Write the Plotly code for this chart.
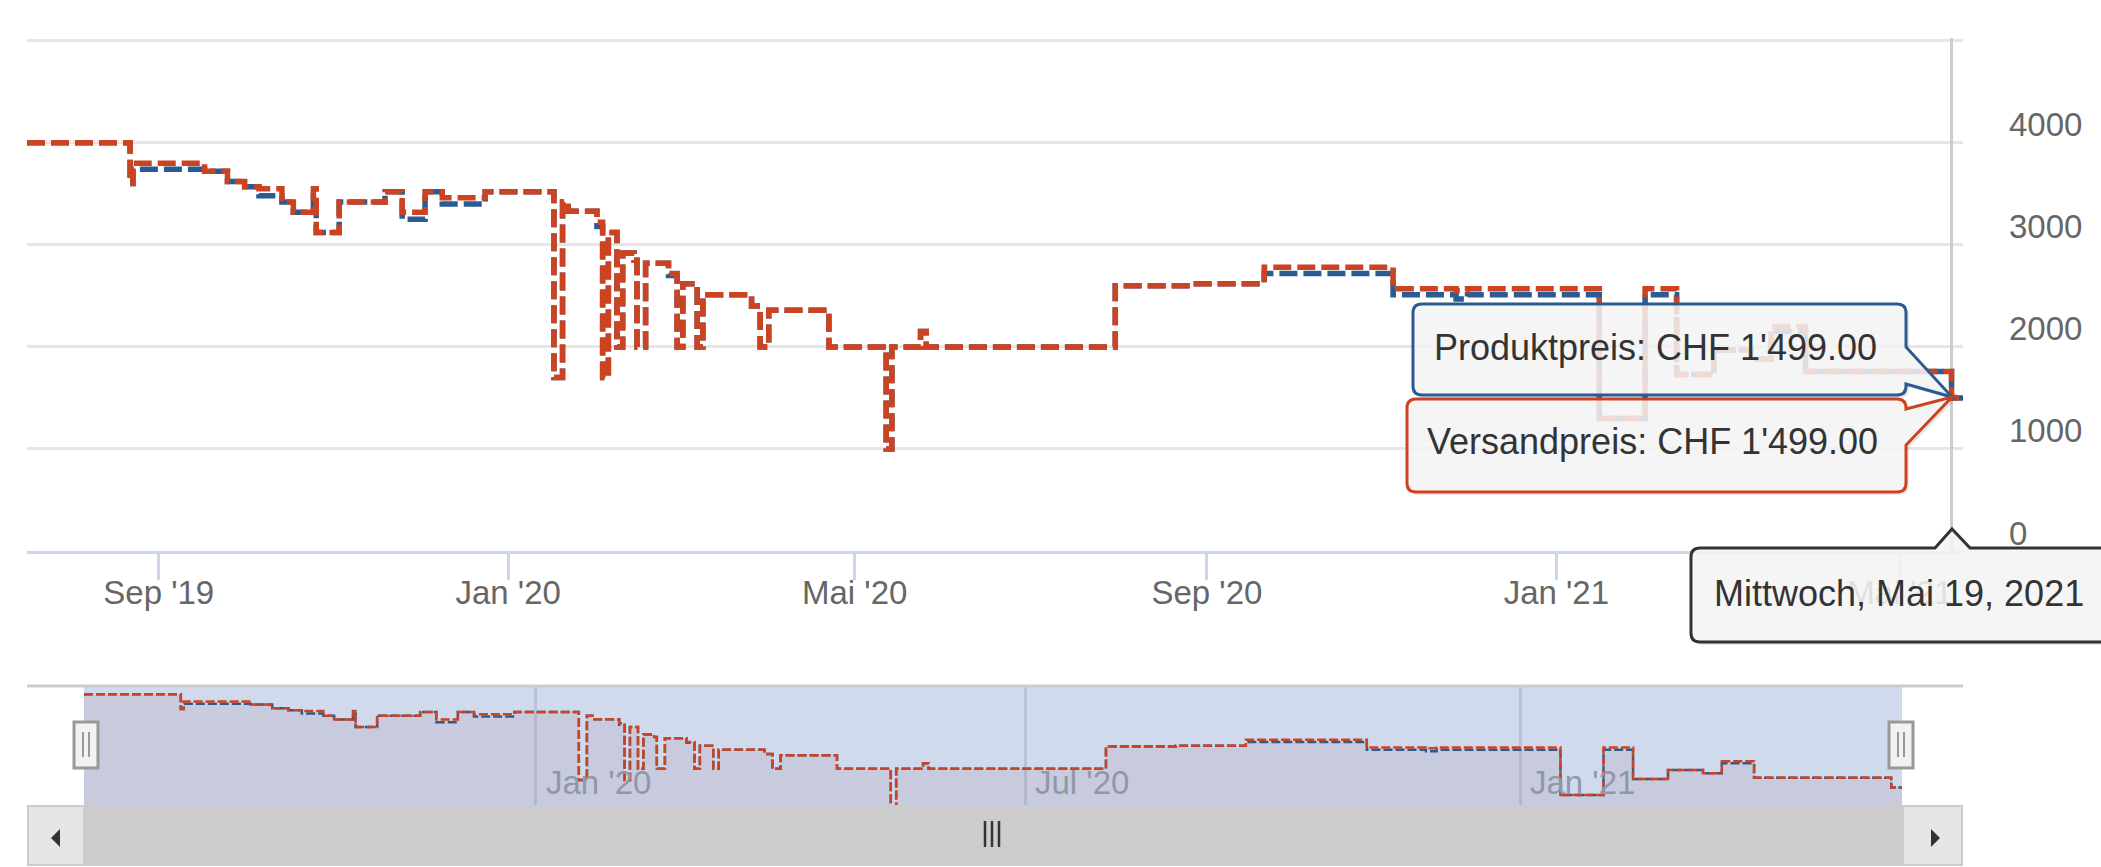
import plotly.graph_objects as go

# ---------------- data ----------------
dates = [
    "2019-07-17", "2019-08-22", "2019-08-23", "2019-09-17", "2019-09-25", "2019-10-01",
    "2019-10-06", "2019-10-14", "2019-10-18", "2019-10-25", "2019-10-26", "2019-11-03",
    "2019-11-19", "2019-11-25", "2019-12-03", "2019-12-09", "2019-12-24", "2020-01-17",
    "2020-01-20", "2020-01-22", "2020-02-01", "2020-02-03", "2020-02-05", "2020-02-08",
    "2020-02-10", "2020-02-14", "2020-02-15", "2020-02-18", "2020-02-26", "2020-02-29",
    "2020-03-02", "2020-03-07", "2020-03-09", "2020-03-26", "2020-03-29", "2020-04-01",
    "2020-04-22", "2020-05-12", "2020-05-14", "2020-05-24", "2020-05-26", "2020-07-31",
    "2020-08-26", "2020-09-21", "2020-11-05", "2020-11-27", "2020-12-01", "2021-01-16",
    "2021-02-01", "2021-02-12", "2021-02-25", "2021-03-10", "2021-03-17", "2021-03-29",
    "2021-05-19", "2021-05-23",
]
versandpreis = [
    3999, 3599, 3799, 3719, 3619, 3569,
    3549, 3419, 3319, 3549, 3119, 3419,
    3519, 3319, 3519, 3459, 3519, 1699,
    3419, 3329, 3219, 1699, 3119, 1999,
    2919, 2849, 1999, 2819, 2719, 1999,
    2619, 1999, 2509, 2399, 1999, 2359,
    1999, 999, 1999, 2149, 1999, 2599,
    2619, 2779, 2569, 2549, 2569, 1299,
    2569, 1729, 1969, 1879, 2199, 1759,
    1499, 1499,
]
produktpreis = [
    3999, 3599, 3739, 3719, 3619, 3569,
    3479, 3419, 3319, 3479, 3119, 3419,
    3519, 3249, 3519, 3399, 3519, 1699,
    3419, 3329, 3179, 1699, 3119, 1999,
    2919, 2849, 1999, 2819, 2699, 1999,
    2619, 1999, 2509, 2399, 1999, 2359,
    1999, 999, 1999, 2149, 1999, 2599,
    2619, 2719, 2509, 2469, 2509, 1299,
    2509, 1729, 1969, 1879, 2149, 1759,
    1499, 1499,
]
series_names = ["Produktpreis", "Versandpreis"]
currency = "CHF"
hover_date = "2021-05-19"
hover_label = "Mittwoch, Mai 19, 2021"

x_range = ["2019-07-17", "2021-05-23"]
x_tickvals = ["2019-09-01", "2020-01-01", "2020-05-01", "2020-09-01", "2021-01-01", "2021-05-01"]
x_ticktext = ["Sep '19", "Jan '20", "Mai '20", "Sep '20", "Jan '21", "Mai '21"]
y_tickvals = [0, 1000, 2000, 3000, 4000, 5000]
y_ticktext = ["0", "1000", "2000", "3000", "4000", ""]
nav_tickvals = ["2020-01-01", "2020-07-01", "2021-01-01"]
nav_ticktext = ["Jan '20", "Jul '20", "Jan '21"]

BLUE = "#2a5b92"
RED = "#cc4322"
FONT = "Liberation Sans, Arial, Helvetica, sans-serif"

# ---------------- geometry helpers (pixel -> paper) ----------------
W, H = 2101, 867
ML, MR, MT, MB = 27, 138, 38, 0
PW = W - ML - MR
PH = H - MT - MB


def fx(x):
    return (x - ML) / PW


def fy(y):
    return (H - MB - y) / PH


def pt(p):
    return f"{fx(p[0]):.5f},{fy(p[1]):.5f}"


def box_path(x0, y0, x1, y1, r, right_call=None, top_call=None, dx=0, dy=0):
    x0 += dx; x1 += dx; y0 += dy; y1 += dy
    s = [f"M {pt((x0 + r, y0))}"]
    if top_call:
        a, apex, b = top_call
        s += [f"L {pt((a + dx, y0))}", f"L {pt((apex[0] + dx, apex[1] + dy))}", f"L {pt((b + dx, y0))}"]
    s += [f"L {pt((x1 - r, y0))}", f"Q {pt((x1, y0))} {pt((x1, y0 + r))}"]
    if right_call:
        a, apex, b = right_call
        s += [f"L {pt((x1, a + dy))}", f"L {pt((apex[0] + dx, apex[1] + dy))}", f"L {pt((x1, b + dy))}"]
    s += [f"L {pt((x1, y1 - r))}", f"Q {pt((x1, y1))} {pt((x1 - r, y1))}",
          f"L {pt((x0 + r, y1))}", f"Q {pt((x0, y1))} {pt((x0, y1 - r))}",
          f"L {pt((x0, y0 + r))}", f"Q {pt((x0, y0))} {pt((x0 + r, y0))}", "Z"]
    return " ".join(s)


fig = go.Figure()

# ---------------- main series ----------------
for name, vals, col in [(series_names[0], produktpreis, BLUE), (series_names[1], versandpreis, RED)]:
    fig.add_trace(go.Scatter(
        x=dates, y=vals, name=name, mode="lines", line_shape="hv",
        line=dict(color=col, width=5.5, dash="18px,6px"),
        hoverinfo="skip", showlegend=False, xaxis="x", yaxis="y",
    ))

# ---------------- navigator series ----------------
for name, vals, col, fc in [(series_names[0], produktpreis, BLUE, "rgba(42,91,146,0.05)"),
                            (series_names[1], versandpreis, RED, "rgba(204,67,34,0.05)")]:
    fig.add_trace(go.Scatter(
        x=dates, y=vals, mode="lines", line_shape="hv",
        line=dict(color=col, width=2.5, dash="9px,3px"),
        fill="tozeroy", fillcolor=fc,
        hoverinfo="skip", showlegend=False, xaxis="x2", yaxis="y2",
    ))

main_bottom = fy(551)
nav_x = [fx(84), fx(1902)]
nav_y = [fy(805), fy(687)]

fig.update_layout(
    width=W, height=H,
    margin=dict(l=ML, r=MR, t=MT, b=MB, pad=0, autoexpand=False),
    paper_bgcolor="white", plot_bgcolor="rgba(0,0,0,0)",
    font=dict(family=FONT, color="#666666", size=33),
    showlegend=False,
    xaxis=dict(
        domain=[0, 1], anchor="y", type="date", range=x_range,
        tickmode="array", tickvals=x_tickvals, ticktext=x_ticktext,
        ticks="outside", ticklen=26, tickwidth=3, tickcolor="#ccd6eb",
        showline=True, linecolor="#ccd6eb", linewidth=3,
        showgrid=False, zeroline=False, automargin=False,
        tickfont=dict(size=33, color="#666666", family=FONT),
        ticklabelstandoff=-16,
        fixedrange=True,
    ),
    yaxis=dict(
        domain=[main_bottom, 1], anchor="x", side="right", range=[0, 5025],
        tickmode="array", tickvals=y_tickvals, ticktext=y_ticktext,
        showgrid=True, gridcolor="#e6e6e6", gridwidth=3,
        zeroline=False, showline=False, ticks="", automargin=False,
        tickfont=dict(size=33, color="#666666", family=FONT),
        ticklabelstandoff=45, ticklabelshift=-18,
        fixedrange=True,
    ),
    xaxis2=dict(
        domain=nav_x, anchor="y2", type="date", range=x_range,
        tickmode="array", tickvals=nav_tickvals, showticklabels=False,
        showgrid=True, gridcolor="rgb(186,195,214)", gridwidth=3, automargin=False,
        showline=False, zeroline=False, ticks="", fixedrange=True,
    ),
    yaxis2=dict(
        domain=nav_y, anchor="x2", range=[1030, 4190], automargin=False,
        showticklabels=False, showgrid=False, zeroline=False, showline=False,
        ticks="", fixedrange=True,
    ),
)

shapes = []
# navigator mask
shapes.append(dict(type="rect", xref="paper", yref="paper", x0=fx(84), x1=fx(1902), y0=fy(805), y1=fy(687),
                   fillcolor="rgba(102,133,194,0.3)", line=dict(width=0), layer="below"))
# navigator top outline
shapes.append(dict(type="line", xref="paper", yref="paper", x0=fx(27), x1=fx(1963), y0=fy(686), y1=fy(686),
                   line=dict(color="#cccccc", width=3), layer="above"))
# scrollbar track + thumb
shapes.append(dict(type="rect", xref="paper", yref="paper", x0=fx(27), x1=fx(1963), y0=fy(866), y1=fy(805),
                   fillcolor="#cccccc", line=dict(width=0), layer="above"))
# scrollbar buttons
for bx0, bx1 in [(27, 85), (1902, 1963)]:
    shapes.append(dict(type="rect", xref="paper", yref="paper", x0=fx(bx0 + 1), x1=fx(bx1 - 1), y0=fy(865), y1=fy(806),
                       fillcolor="#e6e6e6", line=dict(color="#cccccc", width=2), layer="above"))
# arrows
shapes.append(dict(type="path", xref="paper", yref="paper",
                   path=f"M {pt((51, 838))} L {pt((60, 829))} L {pt((60, 847))} Z",
                   fillcolor="#333333", line=dict(width=0), layer="above"))
shapes.append(dict(type="path", xref="paper", yref="paper",
                   path=f"M {pt((1940, 838))} L {pt((1931, 829))} L {pt((1931, 847))} Z",
                   fillcolor="#333333", line=dict(width=0), layer="above"))
# scrollbar grip
for gx in [985, 992, 999]:
    shapes.append(dict(type="line", xref="paper", yref="paper", x0=fx(gx), x1=fx(gx), y0=fy(847), y1=fy(821),
                       line=dict(color="#333333", width=2.5), layer="above"))
# navigator handles
for hc in [86, 1901]:
    shapes.append(dict(type="rect", xref="paper", yref="paper", x0=fx(hc - 12), x1=fx(hc + 12), y0=fy(768), y1=fy(722),
                       fillcolor="#f2f2f2", line=dict(color="#999999", width=3), layer="above"))
    for gx in [hc - 3, hc + 3]:
        shapes.append(dict(type="line", xref="paper", yref="paper", x0=fx(gx), x1=fx(gx), y0=fy(757), y1=fy(732),
                           line=dict(color="#999999", width=2), layer="above"))

# crosshair
shapes.append(dict(type="line", xref="x", yref="y", x0=hover_date, x1=hover_date, y0=0, y1=5025,
                   line=dict(color="#cccccc", width=3), layer="between"))

# tooltips (shadows then boxes)
apex = (1952, 397)
blue_box = dict(x0=1413, y0=304, x1=1906, y1=395, r=9, right_call=(347, apex, 384))
red_box = dict(x0=1407, y0=399, x1=1906, y1=492, r=9, right_call=(409, apex, 445))
date_box = dict(x0=1691, y0=548, x1=2125, y1=642, r=9, top_call=(1935, (1952, 529), 1970))
for b in [blue_box, red_box, date_box]:
    shapes.append(dict(type="path", xref="paper", yref="paper", path=box_path(**b, dx=3, dy=3),
                       fillcolor="rgba(0,0,0,0.09)", line=dict(width=0), layer="above"))
for b, col in [(blue_box, BLUE), (red_box, RED), (date_box, "#333333")]:
    shapes.append(dict(type="path", xref="paper", yref="paper", path=box_path(**b),
                       fillcolor="rgba(247,247,247,0.85)", line=dict(color=col, width=3), layer="above"))

fig.update_layout(shapes=shapes)


def fmt(v):
    return f"{v:,.2f}".replace(",", "'")


idx = dates.index(hover_date)
annotations = [
    dict(xref="paper", yref="paper", x=fx(1432), y=fy(347), xanchor="left", yanchor="middle",
         text=f"{series_names[0]}: {currency} {fmt(produktpreis[idx])}", showarrow=False,
         font=dict(size=36, color="#333333", family=FONT)),
    dict(xref="paper", yref="paper", x=fx(1425), y=fy(442), xanchor="left", yanchor="middle",
         text=f"{series_names[1]}: {currency} {fmt(versandpreis[idx])}", showarrow=False,
         font=dict(size=36, color="#333333", family=FONT)),
    dict(xref="paper", yref="paper", x=fx(1712), y=fy(593), xanchor="left", yanchor="middle",
         text=hover_label, showarrow=False,
         font=dict(size=36, color="#333333", family=FONT)),
]
for tv, tt in zip(nav_tickvals, nav_ticktext):
    annotations.append(dict(xref="x2", yref="paper", x=tv, y=fy(782), xanchor="left", yanchor="middle",
                            xshift=8, text=tt, showarrow=False,
                            font=dict(size=33, color="#8f97a9", family=FONT)))
fig.update_layout(annotations=annotations)

fig.write_html("out.html", config={"displayModeBar": False},
               post_script="document.body.style.margin='0';document.body.style.overflow='hidden';")
